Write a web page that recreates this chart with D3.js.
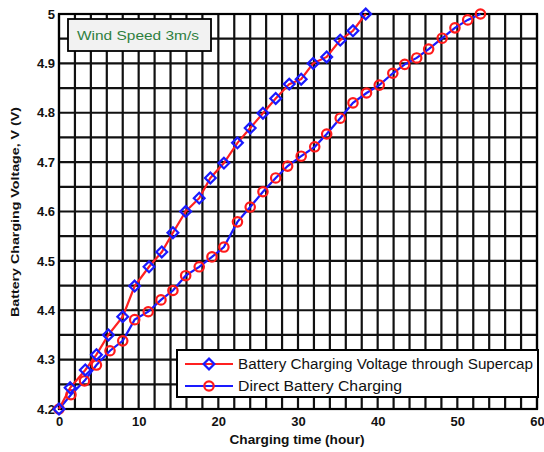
<!DOCTYPE html>
<html>
<head>
<meta charset="utf-8">
<script src="https://cdn.jsdelivr.net/npm/d3@7/dist/d3.min.js"></script>
<style>
  html, body { margin: 0; padding: 0; background: #fff; }
  svg { display: block; }
</style>
</head>
<body>
<svg id="chart" width="544" height="452"></svg>
<script>
// ---- data ----
const supercapTime = [0, 1.4, 3.3, 4.7, 6.2, 8.0, 9.5, 11.3, 12.9, 14.3, 15.9, 17.6, 19.0, 20.7, 22.4, 24.0, 25.6, 27.2, 28.9, 30.4, 31.9, 33.6, 35.3, 36.9, 38.5];
const supercapVoltage = [4.20, 4.243, 4.279, 4.310, 4.350, 4.387, 4.449, 4.488, 4.518, 4.557, 4.600, 4.627, 4.668, 4.698, 4.739, 4.769, 4.799, 4.829, 4.858, 4.868, 4.900, 4.913, 4.947, 4.966, 5.0];
const directTime = [0, 1.5, 3.2, 4.7, 6.4, 8.0, 9.5, 11.2, 12.8, 14.3, 15.9, 17.6, 19.2, 20.7, 22.4, 24.0, 25.6, 27.2, 28.7, 30.4, 32.1, 33.6, 35.3, 36.9, 38.6, 40.2, 41.9, 43.4, 44.9, 46.4, 48.1, 49.7, 51.3, 52.9];
const directVoltage = [4.20, 4.229, 4.257, 4.289, 4.318, 4.338, 4.381, 4.397, 4.421, 4.440, 4.470, 4.488, 4.508, 4.528, 4.579, 4.609, 4.640, 4.668, 4.692, 4.712, 4.731, 4.757, 4.789, 4.820, 4.840, 4.856, 4.880, 4.898, 4.911, 4.929, 4.951, 4.972, 4.988, 5.0];
const xTicks = [0, 10, 20, 30, 40, 50, 60];
const yTicks = [4.2, 4.3, 4.4, 4.5, 4.6, 4.7, 4.8, 4.9, 5];
const xGrid = d3.range(0, 60.001, 2);
const yGrid = d3.range(4.2, 5.0001, 0.05);
const seriesNames = ["Battery Charging Voltage through Supercap", "Direct Battery Charging"];
const annotationText = "Wind Speed 3m/s";
const xLabel = "Charging time (hour)";
const yLabel = "Battery Charging Voltage, V (V)";

// ---- layout ----
const L = 59, R = 537, T = 14, B = 409;
const svg = d3.select("#chart");
const x = d3.scaleLinear().domain([0, 60]).range([L, R]);
const y = d3.scaleLinear().domain([4.2, 5.0]).range([B, T]);
const FONT = "Liberation Sans, Arial, sans-serif";

// grid
const grid = svg.append("g");
grid.selectAll("line.v").data(xGrid).join("line")
  .attr("x1", d => x(d)).attr("x2", d => x(d))
  .attr("y1", T).attr("y2", B)
  .attr("stroke", "#111").attr("stroke-width", 2.2);
grid.selectAll("line.h").data(yGrid).join("line")
  .attr("x1", L).attr("x2", R)
  .attr("y1", d => y(d)).attr("y2", d => y(d))
  .attr("stroke", "#111").attr("stroke-width", 2.2);

// frame
svg.append("rect").attr("x", L).attr("y", T).attr("width", R - L).attr("height", B - T)
  .attr("fill", "none").attr("stroke", "#000").attr("stroke-width", 2.2);

// axes
const xAxis = svg.append("g").attr("transform", `translate(0,${B})`)
  .call(d3.axisBottom(x).tickValues(xTicks).tickSize(0).tickPadding(8).tickFormat(d3.format("d")));
const yAxis = svg.append("g").attr("transform", `translate(${L},0)`)
  .call(d3.axisLeft(y).tickValues(yTicks).tickSize(0).tickPadding(4).tickFormat(d => d === 5 ? "5" : d3.format(".1f")(d)));
[xAxis, yAxis].forEach(a => {
  a.select(".domain").remove();
  a.selectAll("text").attr("font-family", FONT).attr("font-size", 13).attr("font-weight", "bold").attr("fill", "#111");
});

// axis labels
svg.append("text").attr("x", 297).attr("y", 444).attr("text-anchor", "middle")
  .attr("font-family", FONT).attr("font-size", 12.5).attr("font-weight", "bold").attr("fill", "#111")
  .attr("textLength", 135).attr("lengthAdjust", "spacingAndGlyphs")
  .text(xLabel);
svg.append("text").attr("transform", "translate(19,212) rotate(-90)").attr("text-anchor", "middle")
  .attr("font-family", FONT).attr("font-size", 11.5).attr("font-weight", "bold").attr("fill", "#111")
  .attr("textLength", 210).attr("lengthAdjust", "spacingAndGlyphs")
  .text(yLabel);

// series
const s1 = supercapTime.map((t, i) => [t, supercapVoltage[i]]);
const s2 = directTime.map((t, i) => [t, directVoltage[i]]);
const line = d3.line().x(d => x(d[0])).y(d => y(d[1]));

svg.append("path").attr("d", line(s2)).attr("fill", "none").attr("stroke", "#1a1aff").attr("stroke-width", 2.2);
svg.append("path").attr("d", line(s1)).attr("fill", "none").attr("stroke", "#ff2020").attr("stroke-width", 2.2);

function diamondPath(cx, cy, r) {
  return `M${cx},${cy - r}L${cx + r},${cy}L${cx},${cy + r}L${cx - r},${cy}Z`;
}
svg.append("g").selectAll("circle").data(s2).join("circle")
  .attr("cx", d => x(d[0])).attr("cy", d => y(d[1])).attr("r", 4.7)
  .attr("fill", "none").attr("stroke", "#ff1a1a").attr("stroke-width", 2.2);
svg.append("g").selectAll("path").data(s1).join("path")
  .attr("d", d => diamondPath(x(d[0]), y(d[1]), 5.4))
  .attr("fill", "none").attr("stroke", "#1a1aff").attr("stroke-width", 2.2);

// legend
const lg = svg.append("g");
lg.append("rect").attr("x", 177).attr("y", 350).attr("width", 361).attr("height", 47)
  .attr("fill", "#fff").attr("stroke", "#000").attr("stroke-width", 2);
const rows = [
  { name: seriesNames[0], lineColor: "#ff2020", marker: "diamond", yy: 364, len: 295 },
  { name: seriesNames[1], lineColor: "#1a1aff", marker: "circle", yy: 386, len: 164 }
];
rows.forEach(r => {
  lg.append("line").attr("x1", 185).attr("x2", 233).attr("y1", r.yy).attr("y2", r.yy)
    .attr("stroke", r.lineColor).attr("stroke-width", 2.2);
  if (r.marker === "diamond") {
    lg.append("path").attr("d", diamondPath(209, r.yy, 5.4)).attr("fill", "none")
      .attr("stroke", "#1a1aff").attr("stroke-width", 2.2);
  } else {
    lg.append("circle").attr("cx", 209).attr("cy", r.yy).attr("r", 4.7).attr("fill", "none")
      .attr("stroke", "#ff1a1a").attr("stroke-width", 2.2);
  }
  lg.append("text").attr("x", 238).attr("y", r.yy + 5)
    .attr("font-family", FONT).attr("font-size", 14).attr("fill", "#111")
    .attr("textLength", r.len).attr("lengthAdjust", "spacingAndGlyphs")
    .text(r.name);
});

// annotation
svg.append("rect").attr("x", 68).attr("y", 19).attr("width", 143).attr("height", 32)
  .attr("fill", "#f2f2f2").attr("stroke", "#000").attr("stroke-width", 1.8);
svg.append("text").attr("x", 77).attr("y", 39.5)
  .attr("font-family", FONT).attr("font-size", 13.5).attr("fill", "#2f7f3f")
  .attr("textLength", 122).attr("lengthAdjust", "spacingAndGlyphs")
  .text(annotationText);
</script>
</body>
</html>
